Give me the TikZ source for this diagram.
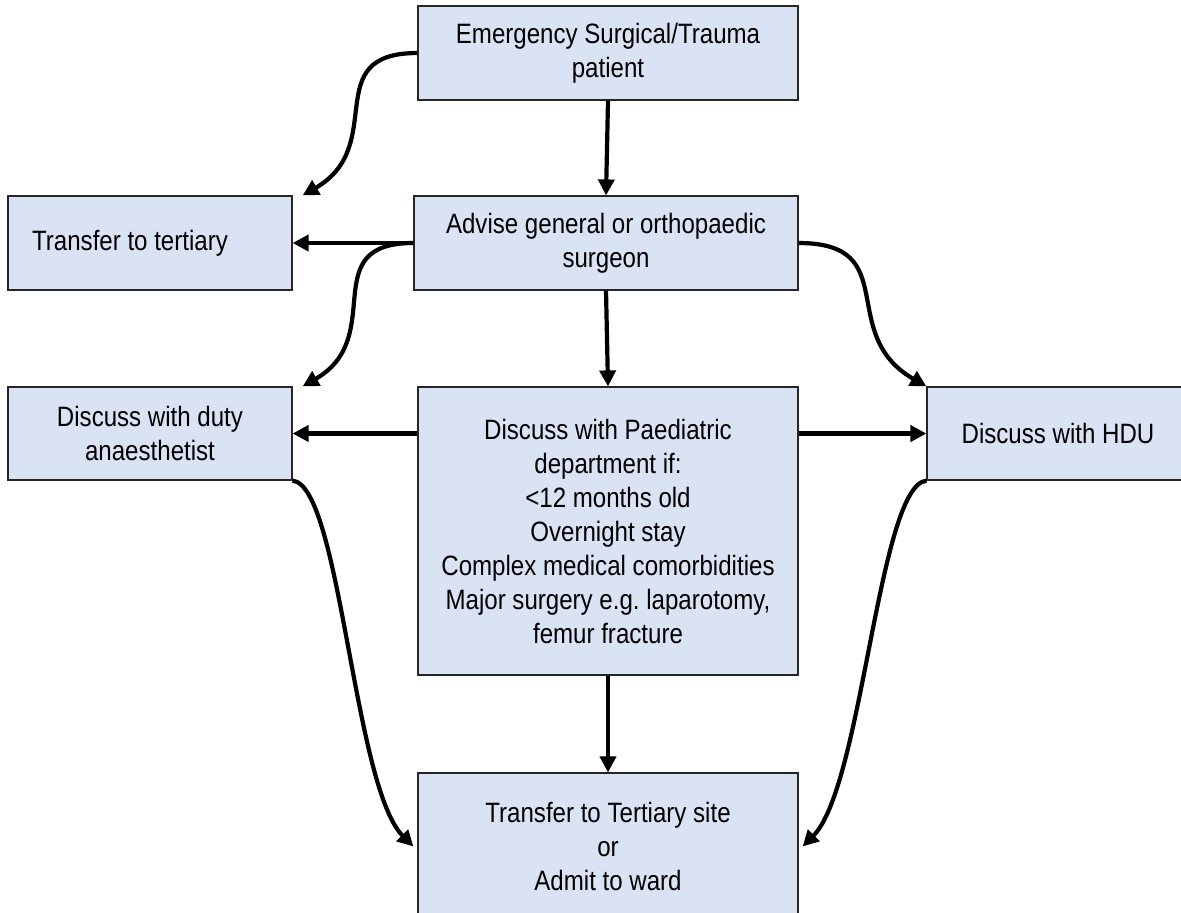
\documentclass[tikz,border=0pt]{standalone}
\usepackage{fontspec}
\setmainfont{Liberation Sans}[FakeStretch=0.86]
\usetikzlibrary{arrows.meta}
\definecolor{boxblue}{RGB}{218,227,243}

\begin{document}
\frenchspacing
\begin{tikzpicture}
        [x=0.5pt, y=-0.5pt,
        box/.style={draw=black!85, fill=boxblue, line width=0.6pt, align=center, inner sep=0pt, font=\fontsize{14}{17}\selectfont},
        arr/.style={line width=2.1pt, -{Triangle[length=8pt,width=8pt]}}]

        \useasboundingbox (0,0) rectangle (1181,912);
        \clip (0,0) rectangle (1181,912);

        \node[box, minimum width=190pt, minimum height=47pt] (emerg) at (608,53) {Emergency Surgical/Trauma\\patient};
        \node[box, minimum width=192pt, minimum height=47pt] (advise) at (606,243) {Advise general or orthopaedic\\surgeon};
        \node[box, minimum width=142pt, minimum height=47pt] (tert) at (150,243) {Transfer to tertiary\hspace*{20pt}};
        \node[box, minimum width=142pt, minimum height=46.5pt] (duty) at (150,433.5) {Discuss with duty\\anaesthetist};
        \node[box, minimum width=190pt, minimum height=144pt] (paed) at (608,531) {Discuss with Paediatric\\department if:\\<12 months old\\Overnight stay\\Complex medical comorbidities\\Major surgery e.g. laparotomy,\\femur fracture};
        \node[box, minimum width=131pt, minimum height=46.5pt] (hdu) at (1058,433.5) {Discuss with HDU};
        \node[box, minimum width=190pt, minimum height=73.5pt] (admit) at (608,846.5) {Transfer to Tertiary site\\or\\Admit to ward};

        \draw[arr] (emerg.south) -- (advise.north);
        \draw[arr] (advise.south) -- (paed.north);
        \draw[arr] (paed.south) -- (admit.north);

        \draw[arr] (advise.west) -- (tert.east);
        \draw[arr] (paed.west |- duty.east) -- (duty.east);
        \draw[arr] (paed.east |- hdu.west) -- (hdu.west);

        \draw[arr] (emerg.west) to[out=180, in=30, looseness=1.4] ([xshift=5pt]tert.north east);
        \draw[arr] (advise.west) to[out=180, in=30, looseness=1.4] ([xshift=5pt]duty.north east);
        \draw[arr] (advise.east) to[out=0, in=150, looseness=1.4] (hdu.north west);

        \draw[arr] (duty.south east) .. controls +(48,5) and +(-60,-60) .. ([xshift=-2pt]admit.west);
        \draw[arr] (hdu.south west) .. controls +(-48,5) and +(60,-60) .. ([xshift=2pt]admit.east);

      \end{tikzpicture}
\end{document}
